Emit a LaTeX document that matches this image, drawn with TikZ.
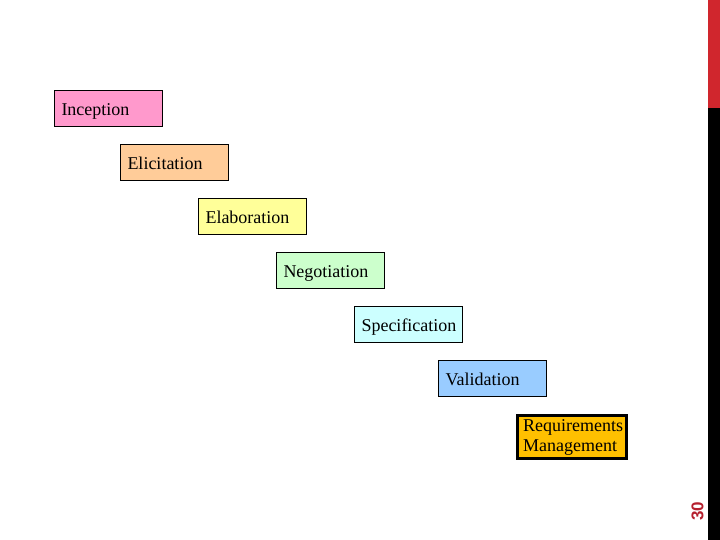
\documentclass[tikz,border=0pt]{standalone}
\usepackage{fontspec}
\setmainfont{Liberation Serif}
\newfontfamily\numfont{Liberation Sans}
\definecolor{cInc}{HTML}{FF99CC}
\definecolor{cEli}{HTML}{FFCC99}
\definecolor{cEla}{HTML}{FFFF99}
\definecolor{cNeg}{HTML}{CCFFCC}
\definecolor{cSpe}{HTML}{CCFFFF}
\definecolor{cVal}{HTML}{99CCFF}
\definecolor{cReq}{HTML}{FFC000}
\definecolor{barred}{HTML}{D0262D}
\definecolor{numred}{HTML}{B5202E}
\begin{document}
\begin{tikzpicture}[x=1pt,y=-1pt,
  stagebox/.style={draw=black, line width=1pt, anchor=north west,
    minimum width=108pt, minimum height=36pt, text width=94pt,
    text height=16pt, text depth=2pt,
    inner xsep=7pt, inner ysep=0pt, align=left,
    font=\fontsize{18}{20}\selectfont}]
\useasboundingbox (0,0) rectangle (720,540);
\fill[white] (0,0) rectangle (720,540);
% right bar
\fill[barred] (708,0) rectangle (720,108);
\fill[black] (708,108) rectangle (720,540);
\node[text=numred, rotate=90, font=\numfont\bfseries\fontsize{17}{17}\selectfont, inner sep=0pt] (pg) at (697.5,511) {30};
% stages
\node[stagebox, fill=cInc] (inc) at (54,90) {Inception};
\node[stagebox, fill=cEli] (eli) at (120,144) {Elicitation};
\node[stagebox, fill=cEla] (ela) at (198,198) {Elaboration};
\node[stagebox, fill=cNeg] (neg) at (276,252) {Negotiation};
\node[stagebox, fill=cSpe] (spe) at (354,306) {Specification};
\node[stagebox, fill=cVal] (val) at (438,360) {Validation};
\node[draw=black, line width=3pt, fill=cReq, anchor=north west,
  minimum width=109pt, minimum height=43pt, inner sep=0pt] (req) at (515.5,413.5) {};
\node[anchor=north west, inner sep=0pt, align=left,
  font=\fontsize{18}{20}\selectfont] (reqt) at (523,419.5) {Requirements\\Management};
\end{tikzpicture}
\end{document}
